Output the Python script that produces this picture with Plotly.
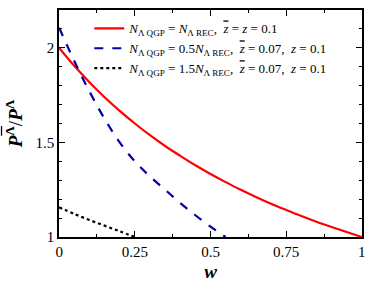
import plotly.graph_objects as go

w_red = [0, 0.05, 0.1, 0.15, 0.2, 0.25, 0.3, 0.35, 0.4, 0.45, 0.5, 0.55, 0.6, 0.65, 0.7, 0.75, 0.8, 0.85, 0.9, 0.95, 1.0]
r_red = [2.0, 1.905, 1.818, 1.739, 1.667, 1.6, 1.538, 1.481, 1.429, 1.379, 1.333, 1.29, 1.25, 1.212, 1.176, 1.143, 1.111, 1.081, 1.053, 1.026, 1.0]

w_blue = [0, 0.05, 0.1, 0.15, 0.2, 0.25, 0.3, 0.35, 0.4, 0.45, 0.5, 0.55]
r_blue = [2.107, 1.93, 1.77, 1.625, 1.50, 1.40, 1.32, 1.25, 1.18, 1.115, 1.055, 1.0]

w_black = [0, 0.05, 0.1, 0.15, 0.2, 0.25]
r_black = [1.157, 1.122, 1.09, 1.06, 1.03, 1.0]

zbar = '<span style="text-decoration:overline"><i>z</i></span>'
names = [
    f"<i>N</i><sub>Λ QGP</sub> = <i>N</i><sub>Λ REC</sub>,  {zbar} = <i>z</i> = 0.1",
    f"<i>N</i><sub>Λ QGP</sub> = 0.5<i>N</i><sub>Λ REC</sub>,  {zbar} = 0.07,  <i>z</i> = 0.1",
    f"<i>N</i><sub>Λ QGP</sub> = 1.5<i>N</i><sub>Λ REC</sub>,  {zbar} = 0.07,  <i>z</i> = 0.1",
]

fig = go.Figure()
fig.add_trace(go.Scatter(x=w_red, y=r_red, mode="lines", name=names[0],
                         line=dict(color="#ff0000", width=2.2, shape="spline")))
fig.add_trace(go.Scatter(x=w_blue, y=r_blue, mode="lines", name=names[1],
                         line=dict(color="#0000aa", width=2.2, dash="dash", shape="spline")))
fig.add_trace(go.Scatter(x=w_black, y=r_black, mode="lines", name=names[2],
                         line=dict(color="#000000", width=2.2, dash="dot", shape="spline")))

font_family = "Liberation Serif, DejaVu Serif, serif"
XR = [-0.0005, 1.0005]
YR = [1, 2.2]
axis_common = dict(showgrid=False, zeroline=False, showline=True, linecolor="black",
                   linewidth=1.5, mirror="allticks", ticks="inside",
                   tickcolor="black",
                   tickfont=dict(family=font_family, size=15, color="black"))

fig.update_layout(
    width=374, height=293,
    margin=dict(l=59, r=8, t=8, b=56),
    paper_bgcolor="white", plot_bgcolor="rgba(0,0,0,0)",
    font=dict(family=font_family, color="black"),
    showlegend=True,
    legend=dict(x=0.1, y=0.985, xanchor="left", yanchor="top",
                bgcolor="rgba(0,0,0,0)", font=dict(family=font_family, size=13),
                tracegroupgap=0, itemwidth=30),
    xaxis=dict(range=XR, tick0=0, dtick=0.25, tickformat="~g", ticklen=6, tickwidth=1.2,
               title=dict(text="<b><i>w</i></b>", font=dict(family=font_family, size=19), standoff=6),
               **axis_common),
    yaxis=dict(range=YR, tick0=1, dtick=0.5, tickformat="~g", ticklen=6, tickwidth=1.2,
               title=dict(text='<b><i>P</i></b><sup><b><span style="text-decoration:overline">Λ</span></b></sup>/<b><i>P</i></b><sup><b>Λ</b></sup>',
                          font=dict(family=font_family, size=19), standoff=8),
               **axis_common),
    xaxis2=dict(overlaying="x", range=XR, tick0=0, dtick=0.125, ticklen=3, tickwidth=1,
                showticklabels=False, showline=True, linecolor="black", linewidth=1.5,
                mirror="allticks", ticks="inside", tickcolor="black", showgrid=False, zeroline=False),
    yaxis2=dict(overlaying="y", range=YR, tick0=1, dtick=0.1, ticklen=3, tickwidth=1,
                showticklabels=False, showline=True, linecolor="black", linewidth=1.5,
                mirror="allticks", ticks="inside", tickcolor="black", showgrid=False, zeroline=False),
)
# invisible helper trace to activate the minor-tick overlay axes
fig.add_trace(go.Scatter(x=[None], y=[None], xaxis="x2", yaxis="y2", showlegend=False,
                         hoverinfo="skip"))

fig.write_html("out.html", config={"displayModeBar": False},
               post_script="document.body.style.margin='0';document.body.style.overflow='hidden';")
